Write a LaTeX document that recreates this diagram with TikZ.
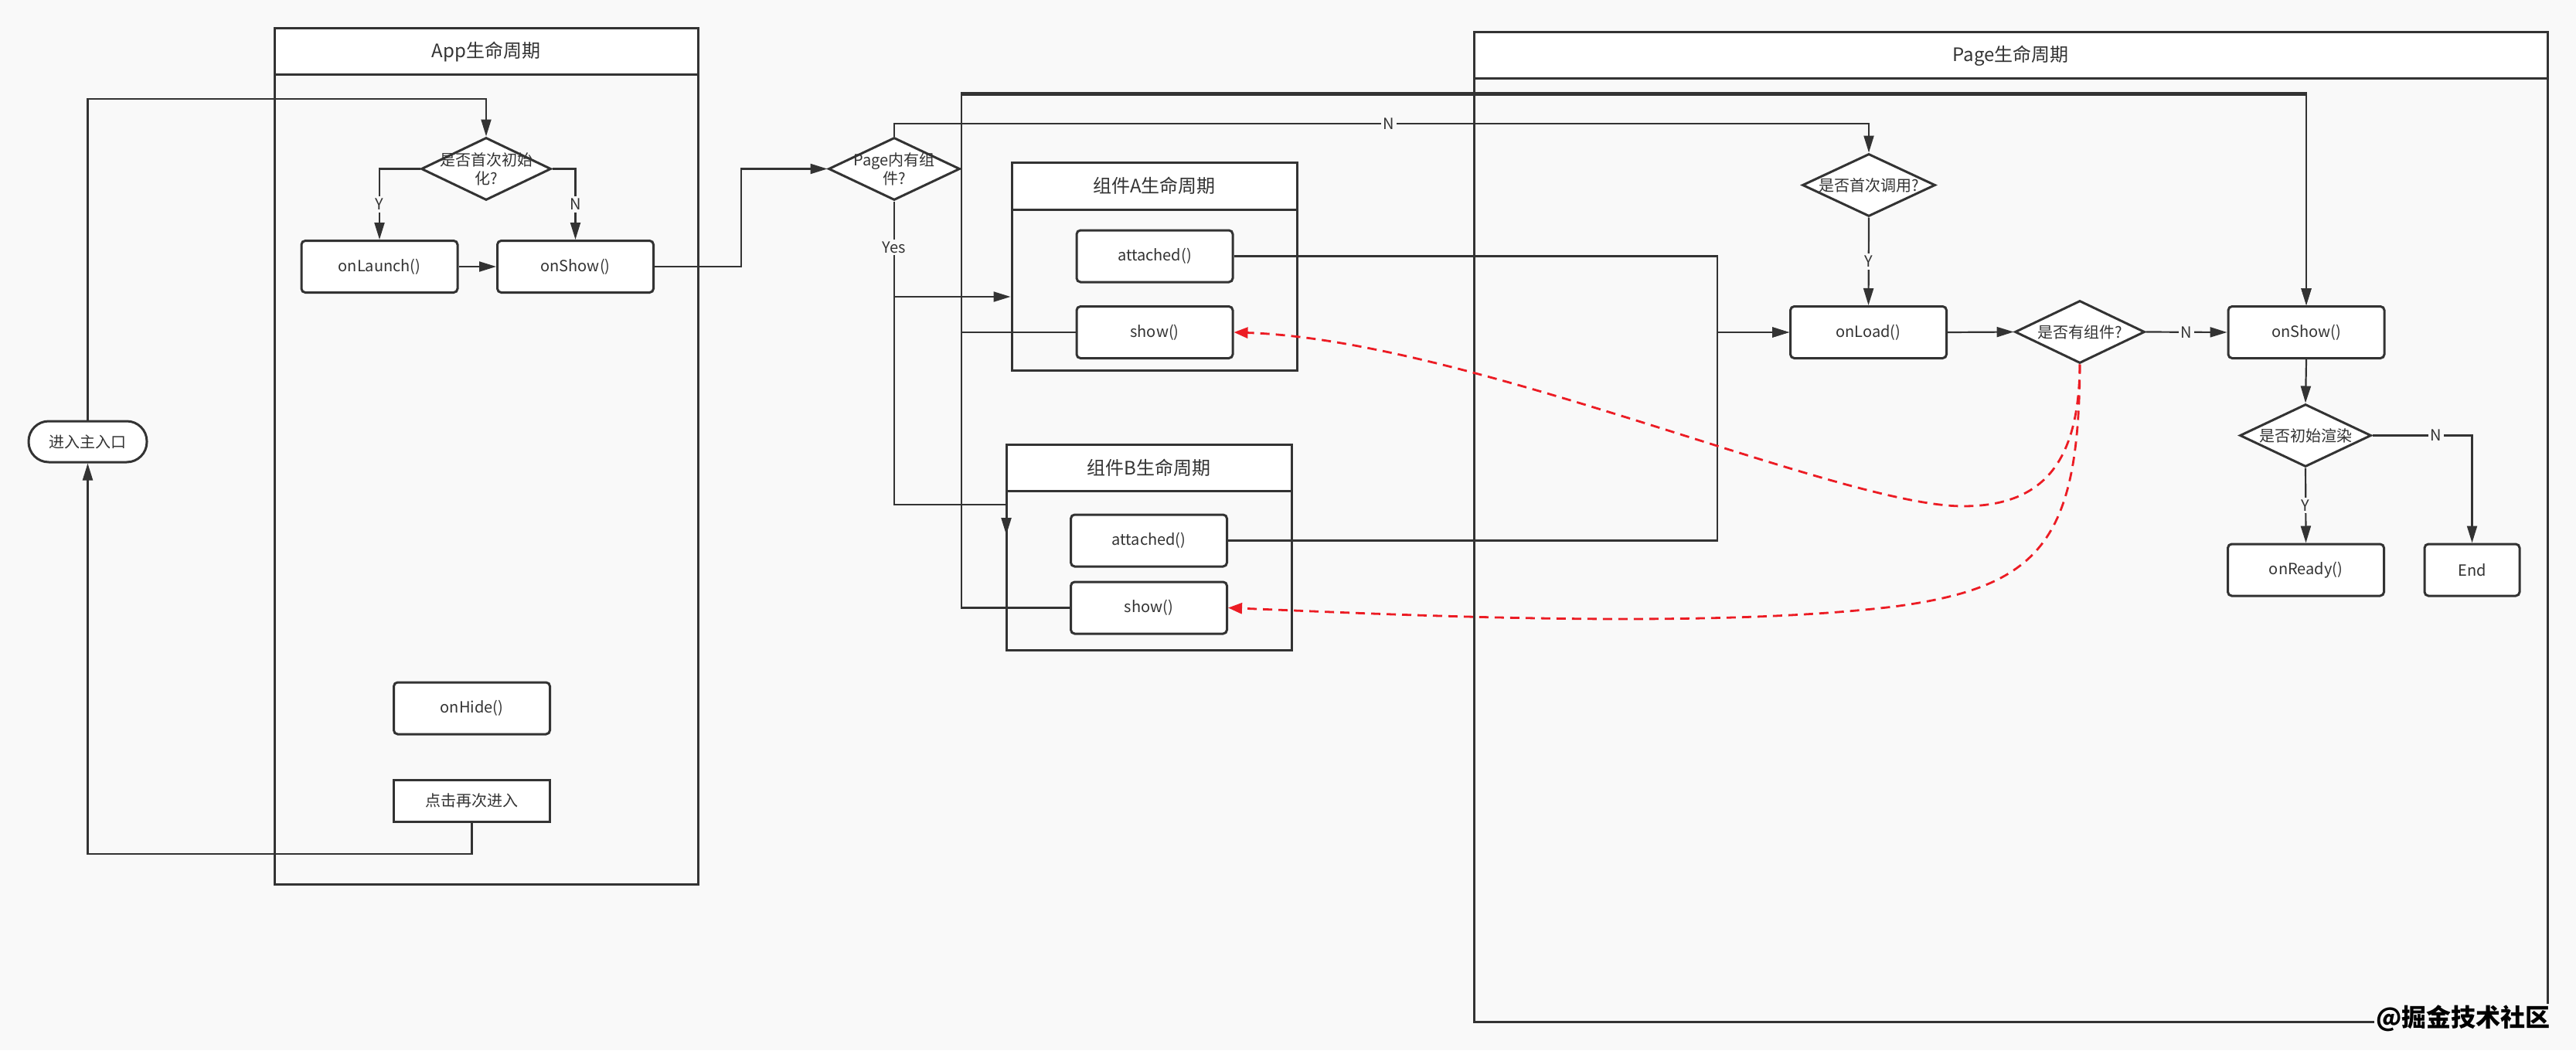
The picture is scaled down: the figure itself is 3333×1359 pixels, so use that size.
\documentclass[tikz,border=0pt]{standalone}
\usepackage{fontspec}
\setmainfont{Noto Sans CJK SC}
\usetikzlibrary{shapes.geometric,arrows.meta}

\definecolor{bgc}{RGB}{249,249,249}
\definecolor{ink}{RGB}{51,51,51}
\definecolor{redline}{RGB}{236,28,36}

\tikzset{every picture/.style={line width=1.1pt}}
\tikzset{
  lane/.style={draw=ink,line width=1.5pt,inner sep=0pt},
  lanehead/.style={draw=ink,fill=white,line width=1.5pt,inner sep=0pt,text=ink,font=\fontsize{12}{14}\selectfont},
  proc/.style={draw=ink,fill=white,line width=1.5pt,rounded corners=2.5pt,minimum width=101pt,minimum height=33.5pt,inner sep=0pt,text=ink,font=\fontsize{10}{12}\selectfont},
  decision/.style={diamond,draw=ink,fill=white,line width=1.5pt,minimum width=85pt,minimum height=40.5pt,inner sep=0pt},
  dtext/.style={text=ink,font=\fontsize{10}{12}\selectfont,align=center,inner sep=0pt},
  conn/.style={draw=ink,line width=1.1pt},
  arr/.style={-{Triangle[length=11pt,width=6.5pt]}},
  lbl/.style={fill=bgc,text=ink,font=\fontsize{10}{12}\selectfont,inner sep=1.5pt},
  reddash/.style={draw=redline,line width=1.4pt,dash pattern=on 6pt off 4pt,-{Triangle[length=9pt,width=7pt]}},
}

\begin{document}
\begin{tikzpicture}[x=0.5pt,y=0.5pt,yscale=-1,xscale=1]
\useasboundingbox[fill=bgc] (0,0) rectangle (3333,1359);

% Swim lanes
\node[lane,minimum width=274pt,minimum height=553.5pt] (appLane) at (629,590.5) {};
\node[lanehead,minimum width=274pt,minimum height=30pt] (appHead) at (629,67) {App生命周期};
\node[lane,minimum width=694.5pt,minimum height=640pt] (pageLane) at (2601.5,682) {};
\node[lanehead,minimum width=694.5pt,minimum height=30pt] (pageHead) at (2601.5,72) {Page生命周期};
\node[lane,minimum width=184.5pt,minimum height=134.5pt] (laneA) at (1493.5,344.5) {};
\node[lanehead,minimum width=184.5pt,minimum height=30.5pt] (headA) at (1493.5,240.5) {组件A生命周期};
\node[lane,minimum width=184.5pt,minimum height=133pt] (laneB) at (1486.5,708) {};
\node[lanehead,minimum width=184.5pt,minimum height=30pt] (headB) at (1486.5,605) {组件B生命周期};

% App
\node[proc,rounded corners=13pt,minimum width=76.5pt,minimum height=26.5pt] (entry) at (113.5,571.5) {进入主入口};
\node[decision,minimum width=84pt,label={[dtext]center:{是否首次初始\\化?}}] (d1) at (629,218.5) {};
\node[proc] (onLaunch) at (491,345) {onLaunch()};
\node[proc] (appShow) at (744.5,345) {onShow()};
\node[proc] (onHide) at (610.5,916.5) {onHide()};
\node[proc,rounded corners=0pt,minimum height=27pt] (rest) at (610.5,1036) {点击再次进入};

% Components
\node[decision,label={[dtext]center:{Page内有组\\件?}}] (d2) at (1157,218.5) {};
\node[proc] (attA) at (1494,331.5) {attached()};
\node[proc] (showA) at (1494,430) {show()};
\node[proc] (attB) at (1486.5,699.5) {attached()};
\node[proc] (showB) at (1486.5,786.5) {show()};

% Page
\node[decision,minimum width=86pt,label={[dtext]center:是否首次调用?}] (d3) at (2418,239.5) {};
\node[proc] (onLoad) at (2417.5,430) {onLoad()};
\node[decision,minimum width=84pt,label={[dtext]center:是否有组件?}] (d4) at (2691,429.5) {};
\node[proc] (pShow) at (2984,430) {onShow()};
\node[decision,label={[dtext]center:是否初始渲染}] (d5) at (2983,563.5) {};
\node[proc] (onReady) at (2983.5,737.5) {onReady()};
\node[proc,minimum width=61.5pt] (endN) at (3198.5,737.5) {End};

%Straight Lines
\draw[conn,arr] (entry.north) |- (400,128) -| (d1.north);
\draw[conn,arr] (rest.south) |- (400,1105) -| (entry.south);
\draw[conn,arr] (d1.west) -| (onLaunch.north) node[lbl,pos=0.75] (lblY1) {Y};
\draw[conn,arr] (d1.east) -| (appShow.north) node[lbl,pos=0.75] (lblN1) {N};
\draw[conn,arr] (onLaunch) -- (appShow);
\draw[conn,arr] (appShow.east) -| (959,280) |- (d2.west);

\draw[conn,arr] (d2.north) |- (1797,160) node[lbl] (lblN2) {N} -| (d3.north);
\draw[conn,arr] (d2.south) -- (1157,653) -| (1302,692);
\node[lbl] (lblYes) at (1157,320) {Yes};
\coordinate (yesA) at (1157,384);
\draw[conn,arr] (yesA) -- (laneA.west |- yesA);

\draw[conn,arr] (attA.east) -| (2222,380) |- (onLoad.west);
\draw[conn,arr] (attB.east) -| (2222,600) |- (onLoad.west);
\draw[conn,arr] (showA.west) -| (1244,300) |- (2000,120) -| (pShow.north);
\draw[conn,arr] (showB.west) -| (1244,600) |- (2000,122.5) -| (pShow.north);

\draw[conn,arr] (d3.south) -- (onLoad.north) node[lbl,midway] (lblY3) {Y};
\draw[conn,arr] (onLoad.east) -- (d4.west);
\draw[conn,arr] (d4.east) -- (pShow.west) node[lbl,midway] (lblN4) {N};
\draw[conn,arr] (pShow.south) -- (d5.north);
\draw[conn,arr] (d5.south) -- (onReady.north) node[lbl,midway] (lblY5) {Y};
\draw[conn,arr] (d5.east) -| (endN.north) node[lbl,pos=0.32] (lblN5) {N};

%Curve Lines
\draw[reddash] (d4.south) .. controls (2690,590) and (2650,655) .. (2540,655) .. controls (2380,655) and (1900,440) .. (showA.east);
\draw[reddash] (d4.south) .. controls (2690,700) and (2640,760) .. (2450,785) .. controls (2200,815) and (1800,795) .. (showB.east);

% Text Node
\node[fill=bgc,text=black,font=\fontsize{16}{18}\selectfont\bfseries,inner sep=1pt] (mark) at (3187,1318) {@掘金技术社区};
\end{tikzpicture}
\end{document}
